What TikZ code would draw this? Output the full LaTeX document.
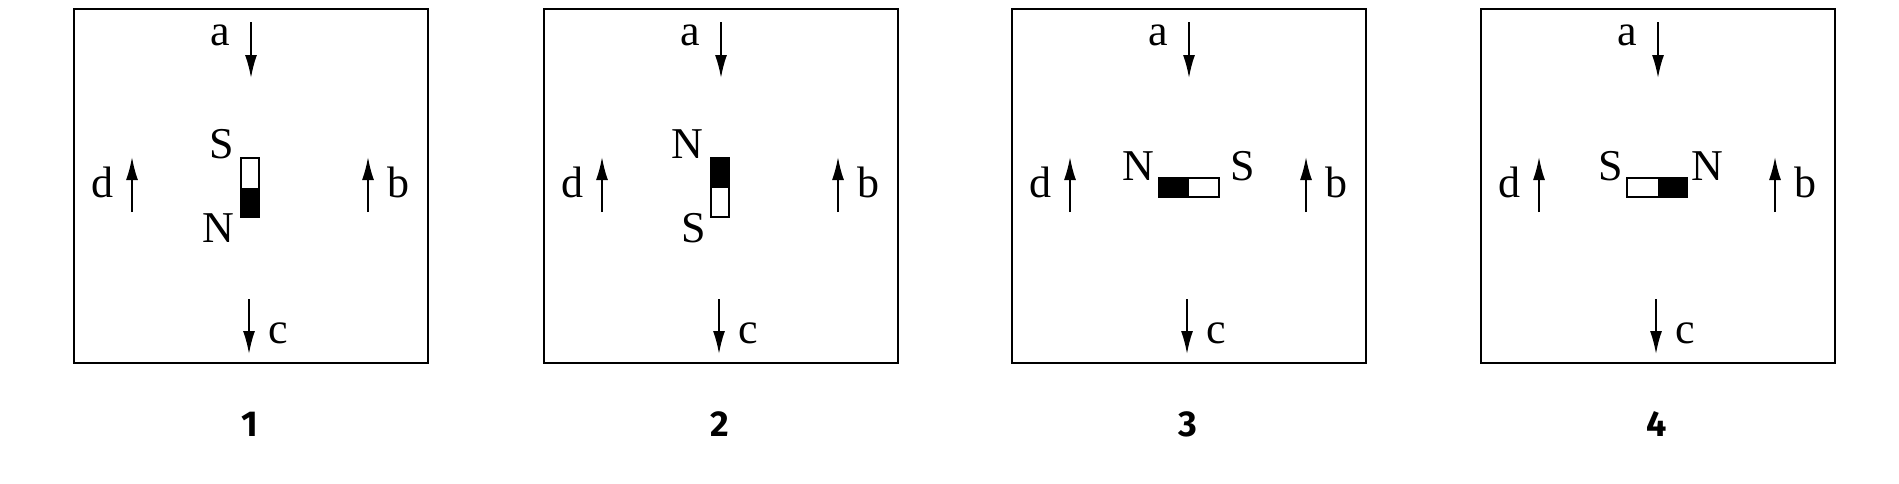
\documentclass[tikz,border=0pt]{standalone}
\usepackage{fontspec}
\setmainfont{Liberation Serif}
\newfontfamily\numfont{Fira Sans}
\usetikzlibrary{arrows.meta}
\tikzset{
  frame/.style={draw=black,line width=1.9pt,minimum width=354pt,minimum height=354pt,anchor=north west,inner sep=0pt},
  fieldarrow/.style={line width=1.8pt,-{Latex[length=23pt,width=12pt]}},
  lbl/.style={font=\fontsize{44}{50}\selectfont,anchor=base,inner sep=0pt},
  num/.style={font=\numfont\bfseries\fontsize{36}{40}\selectfont,inner sep=0pt},
  magnet/.style={draw=black,line width=1.6pt},
}
\newcommand\mypanel[2]{%
  \begin{scope}[shift={(#2,0)}]
    \node[frame] (box#1) at (0,8) {};
    \coordinate (as#1) at (178,22); \coordinate (ae#1) at (178,78);
    \draw[fieldarrow] (as#1) -- (ae#1);
    \node[lbl] (la#1) at (147,45) {a};
    \coordinate (cs#1) at (176,299); \coordinate (ce#1) at (176,354);
    \draw[fieldarrow] (cs#1) -- (ce#1);
    \node[lbl] (lc#1) at (205,343) {c};
    \coordinate (ds#1) at (59,212); \coordinate (de#1) at (59,157);
    \draw[fieldarrow] (ds#1) -- (de#1);
    \node[lbl] (ld#1) at (29,197) {d};
    \coordinate (bs#1) at (295,212); \coordinate (be#1) at (295,157);
    \draw[fieldarrow] (bs#1) -- (be#1);
    \node[lbl] (lb#1) at (325,197) {b};
    \node[num] (n#1) at (177,424) {#1};
  \end{scope}}
\begin{document}
\begin{tikzpicture}[x=1pt,y=-1pt]
  \fill[white] (0,0) rectangle (1899,483);
  \useasboundingbox (0,0) rectangle (1899,483);
  \mypanel{1}{73}
  \mypanel{2}{543}
  \mypanel{3}{1011}
  \mypanel{4}{1480}
  % panel 1 magnet
  \begin{scope}[shift={(73,0)}]
    \fill (168,188) rectangle (186,217);
    \draw[magnet] (168,158) rectangle (186,217);
    \node[lbl] (s1) at (149,158) {S};
    \node[lbl] (nn1) at (145,242) {N};
  \end{scope}
  % panel 2 magnet
  \begin{scope}[shift={(543,0)}]
    \fill (168,158) rectangle (186,188);
    \draw[magnet] (168,158) rectangle (186,217);
    \node[lbl] (nn2) at (144,158) {N};
    \node[lbl] (s2) at (151,242) {S};
  \end{scope}
  % panel 3 magnet
  \begin{scope}[shift={(1011,0)}]
    \fill (148,178) rectangle (178,197);
    \draw[magnet] (148,178) rectangle (208,197);
    \node[lbl] (nn3) at (127,180) {N};
    \node[lbl] (s3) at (232,180) {S};
  \end{scope}
  % panel 4 magnet
  \begin{scope}[shift={(1480,0)}]
    \fill (178,178) rectangle (207,197);
    \draw[magnet] (147,178) rectangle (207,197);
    \node[lbl] (s4) at (131,180) {S};
    \node[lbl] (nn4) at (227,180) {N};
  \end{scope}
\end{tikzpicture}
\end{document}
